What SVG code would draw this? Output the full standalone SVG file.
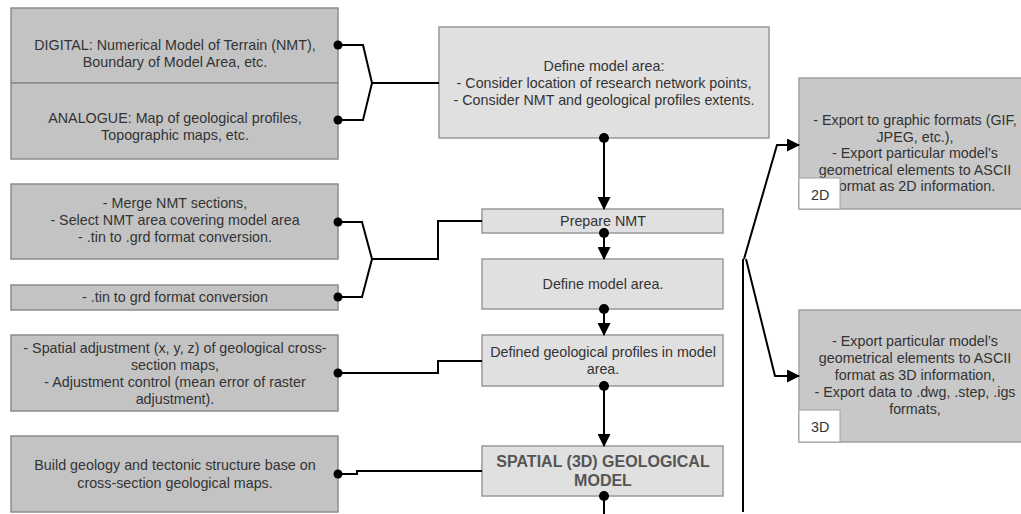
<svg xmlns="http://www.w3.org/2000/svg" width="1021" height="514" viewBox="0 0 1021 514">
<defs>
<style>
.src{fill:#c3c3c3;stroke:#8c8c8c;stroke-width:1.5}
.mid{fill:#e0e0e0;stroke:#999;stroke-width:1.5}
.out{fill:#c8c8c8;stroke:#a0a0a0;stroke-width:1.5}
.lab{fill:#fff;stroke:#a0a0a0;stroke-width:1}
text{font-family:"Liberation Sans",Arial,sans-serif;font-size:14.3px;fill:#333;text-anchor:middle}
.b{font-weight:bold;font-size:16px;fill:#555}
.l{text-anchor:start}
.c{fill:none;stroke:#000;stroke-width:2}
.d{fill:#000}
</style>
<marker id="ah" markerWidth="13" markerHeight="13" refX="12" refY="6.5" orient="auto" markerUnits="userSpaceOnUse">
<path d="M0,0 L13,6.5 L0,13 Z" fill="#000"/>
</marker>
</defs>
<rect width="1021" height="514" fill="#fff"/>

<g id="digital">
<rect class="src" x="11" y="8" width="327" height="75"/>
<text x="175" y="50">DIGITAL: Numerical Model of Terrain (NMT),</text>
<text x="175" y="67">Boundary of Model Area, etc.</text>
</g>
<g id="analogue">
<rect class="src" x="11" y="83" width="327" height="76"/>
<text x="175" y="123">ANALOGUE: Map of geological profiles,</text>
<text x="175" y="140">Topographic maps, etc.</text>
</g>
<g id="merge">
<rect class="src" x="11" y="184" width="327" height="75"/>
<text x="175" y="208">- Merge NMT sections,</text>
<text x="175" y="225">- Select NMT area covering model area</text>
<text x="175" y="242">- .tin to .grd format conversion.</text>
</g>
<g id="tin">
<rect class="src" x="11" y="285" width="327" height="25"/>
<text x="175" y="302">- .tin to grd format conversion</text>
</g>
<g id="spatialadj">
<rect class="src" x="11" y="335" width="327" height="76"/>
<text x="175" y="353">- Spatial adjustment (x, y, z) of geological cross-</text>
<text x="175" y="370">section maps,</text>
<text x="175" y="387">- Adjustment control (mean error of raster</text>
<text x="175" y="404">adjustment).</text>
</g>
<g id="build">
<rect class="src" x="11" y="436" width="327" height="76"/>
<text x="175" y="470">Build geology and tectonic structure base on</text>
<text x="175" y="488">cross-section geological maps.</text>
</g>

<g id="definearea1">
<rect class="mid" x="439" y="27" width="330" height="111"/>
<text x="604" y="71">Define model area:</text>
<text x="604" y="88">- Consider location of research network points,</text>
<text x="604" y="105">- Consider NMT and geological profiles extents.</text>
</g>
<g id="preparenmt">
<rect class="mid" x="482" y="209" width="241" height="24"/>
<text x="603" y="226">Prepare NMT</text>
</g>
<g id="definearea2">
<rect class="mid" x="482" y="259" width="241" height="50"/>
<text x="603" y="289">Define model area.</text>
</g>
<g id="profiles">
<rect class="mid" x="482" y="335" width="241" height="51"/>
<text x="603" y="357">Defined geological profiles in model</text>
<text x="603" y="374">area.</text>
</g>
<g id="model3d">
<rect class="mid" x="482" y="446" width="241" height="50"/>
<text class="b" x="603" y="467">SPATIAL (3D) GEOLOGICAL</text>
<text class="b" x="603" y="486">MODEL</text>
</g>

<g id="export2d">
<rect class="out" x="799" y="78" width="240" height="131"/>
<text x="915" y="125">- Export to graphic formats (GIF,</text>
<text x="915" y="142">JPEG, etc.),</text>
<text x="915" y="158">- Export particular model’s</text>
<text x="915" y="175">geometrical elements to ASCII</text>
<text x="915" y="191">format as 2D information.</text>
<rect class="lab" x="799" y="178" width="41" height="31"/>
<text class="l" x="811" y="200">2D</text>
</g>
<g id="export3d">
<rect class="out" x="799" y="310" width="240" height="132"/>
<text x="915" y="346">- Export particular model’s</text>
<text x="915" y="363">geometrical elements to ASCII</text>
<text x="915" y="380">format as 3D information,</text>
<text x="915" y="397">- Export data to .dwg, .step, .igs</text>
<text x="915" y="414">formats,</text>
<rect class="lab" x="799" y="410" width="41" height="32"/>
<text class="l" x="811" y="432">3D</text>
</g>

<g id="connectors">
<path class="c" d="M338,45 H363 L372,83 L363,120 H338 M372,83 H439"/>
<circle class="d" cx="338" cy="45" r="4.5"/>
<circle class="d" cx="338" cy="120" r="4.5"/>
<path class="c" d="M338,222 H362 L372,259 L362,297 H338 M372,259 H438 V221 H482"/>
<circle class="d" cx="338" cy="222" r="4.5"/>
<circle class="d" cx="338" cy="297" r="4.5"/>
<path class="c" d="M338,373 H438 V361 H482"/>
<circle class="d" cx="338" cy="373" r="4.5"/>
<path class="c" d="M338,474 H357 V471 H482"/>
<circle class="d" cx="338" cy="474" r="4.5"/>

<path class="c" d="M604,138 V209" marker-end="url(#ah)"/>
<circle class="d" cx="604" cy="138" r="5"/>
<path class="c" d="M604,233 V259" marker-end="url(#ah)"/>
<circle class="d" cx="604" cy="233" r="5"/>
<path class="c" d="M604,309 V335" marker-end="url(#ah)"/>
<circle class="d" cx="604" cy="309" r="5"/>
<path class="c" d="M604,386 V446" marker-end="url(#ah)"/>
<circle class="d" cx="604" cy="386" r="5"/>
<path class="c" d="M604,496 V514"/>
<circle class="d" cx="604" cy="496" r="5"/>

<path class="c" d="M743,512 V259"/>
<path class="c" d="M744,259 L777,145 H799" marker-end="url(#ah)"/>
<path class="c" d="M746,259 L775,376 H799" marker-end="url(#ah)"/>
</g>
</svg>
